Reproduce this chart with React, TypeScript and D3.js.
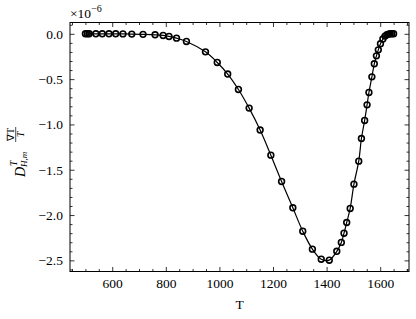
import { useEffect, useRef } from "react";
import * as d3 from "d3";

// Temperature (K) of each sample
const temperature = [
  500, 507, 514, 539, 563, 588, 613, 640, 673, 715, 760, 790, 812, 840, 877,
  948, 992, 1031, 1071, 1111, 1152, 1192, 1232, 1274, 1311, 1347, 1380, 1410,
  1438, 1455, 1465, 1475, 1488, 1502, 1520, 1530, 1542, 1551, 1558, 1569, 1578,
  1586, 1593, 1601, 1610, 1618, 1625, 1631, 1637, 1643, 1650,
];

// D^T_{H,m} * gradT / T, in units of 1e-6
const thermoDiff = [
  0, 0, 0, 0, 0, 0, 0, -0.001, -0.003, -0.006, -0.011, -0.018, -0.029, -0.048,
  -0.084, -0.199, -0.316, -0.444, -0.614, -0.82, -1.062, -1.339, -1.629, -1.92,
  -2.178, -2.376, -2.487, -2.498, -2.4, -2.302, -2.2, -2.082, -1.927, -1.659,
  -1.405, -1.155, -0.956, -0.784, -0.647, -0.475, -0.331, -0.243, -0.177, -0.11,
  -0.058, -0.025, -0.011, -0.003, 0, 0, 0,
];

const xTicks = [600, 800, 1000, 1200, 1400, 1600];
const yTicks = [0, -0.5, -1.0, -1.5, -2.0, -2.5];

const W = 416;
const H = 319;
const margin = { top: 22.5, right: 7, bottom: 47.5, left: 70 };
const serif = "Liberation Serif, Times New Roman, Times, serif";

const App = () => {
  const ref = useRef<SVGSVGElement | null>(null);

  useEffect(() => {
    if (!ref.current) return;
    const root = d3.select(ref.current);
    root.selectAll("*").remove();

    const iw = W - margin.left - margin.right;
    const ih = H - margin.top - margin.bottom;
    const svg = root
      .append("g")
      .attr("transform", `translate(${margin.left},${margin.top})`);

    // 5% padding around the data, like matplotlib
    const [tMin, tMax] = d3.extent(temperature) as [number, number];
    const [vMin, vMax] = d3.extent(thermoDiff) as [number, number];
    const px = (tMax - tMin) * 0.05;
    const py = (vMax - vMin) * 0.05;

    const x = d3.scaleLinear().domain([tMin - px, tMax + px]).range([0, iw]);
    const y = d3.scaleLinear().domain([vMin - py, vMax + py]).range([ih, 0]);

    const xMinor = d3.range(450, 1701, 50).filter((v) => !xTicks.includes(v));
    const yMinor = d3
      .range(-26, 2)
      .map((v) => v / 10)
      .filter((v) => Math.abs(v * 2 - Math.round(v * 2)) > 1e-6);

    const styleAxis = (g) => {
      g.attr("font-family", serif).attr("font-size", 13.5);
      g.select(".domain").remove();
      g.selectAll("line").attr("stroke", "#000").attr("stroke-width", 0.8);
      g.selectAll("text").attr("fill", "#000");
    };

    const fmtY = (d) => d3.format(".1f")(d).replace("-", "\u2212");

    // bottom
    svg.append("g").attr("transform", `translate(0,${ih})`)
      .call(d3.axisBottom(x).tickValues(xTicks).tickSize(-4.5).tickPadding(7).tickFormat(d3.format("d")))
      .call(styleAxis);
    svg.append("g").attr("transform", `translate(0,${ih})`)
      .call(d3.axisBottom(x).tickValues(xMinor).tickSize(-2.5).tickFormat(() => ""))
      .call(styleAxis);
    // top
    svg.append("g")
      .call(d3.axisTop(x).tickValues(xTicks).tickSize(-4.5).tickFormat(() => ""))
      .call(styleAxis);
    svg.append("g")
      .call(d3.axisTop(x).tickValues(xMinor).tickSize(-2.5).tickFormat(() => ""))
      .call(styleAxis);
    // left
    svg.append("g")
      .call(d3.axisLeft(y).tickValues(yTicks).tickSize(-4.5).tickPadding(7).tickFormat(fmtY))
      .call(styleAxis);
    svg.append("g")
      .call(d3.axisLeft(y).tickValues(yMinor).tickSize(-2.5).tickFormat(() => ""))
      .call(styleAxis);
    // right
    svg.append("g").attr("transform", `translate(${iw},0)`)
      .call(d3.axisRight(y).tickValues(yTicks).tickSize(-4.5).tickFormat(() => ""))
      .call(styleAxis);
    svg.append("g").attr("transform", `translate(${iw},0)`)
      .call(d3.axisRight(y).tickValues(yMinor).tickSize(-2.5).tickFormat(() => ""))
      .call(styleAxis);

    // frame
    svg.append("rect")
      .attr("width", iw)
      .attr("height", ih)
      .attr("fill", "none")
      .attr("stroke", "#000")
      .attr("stroke-width", 1);

    const pts = temperature.map((t, i) => [t, thermoDiff[i]]);

    // curve
    const line = d3
      .line()
      .x((d) => x(d[0]))
      .y((d) => y(d[1]))
      .curve(d3.curveCatmullRom.alpha(0.5));
    svg.append("path")
      .datum(pts)
      .attr("d", line)
      .attr("fill", "none")
      .attr("stroke", "#000")
      .attr("stroke-width", 1.2);

    // markers
    svg.append("g")
      .selectAll("circle")
      .data(pts)
      .enter()
      .append("circle")
      .attr("cx", (d) => x(d[0]))
      .attr("cy", (d) => y(d[1]))
      .attr("r", 2.9)
      .attr("fill", "none")
      .attr("stroke", "#000")
      .attr("stroke-width", 1.6);

    const txt = root.append("g").attr("font-family", serif).attr("fill", "#000");

    // offset text
    const off = txt.append("text")
      .attr("x", margin.left)
      .attr("y", 18)
      .attr("font-size", 13.5);
    off.append("tspan").text("\u00d710");
    off.append("tspan").attr("dy", -6).attr("font-size", 10).text("\u22126");

    // x label
    txt.append("text")
      .attr("x", margin.left + iw / 2)
      .attr("y", 309)
      .attr("text-anchor", "middle")
      .attr("font-size", 13.5)
      .text("T");

    // y label: D^T_{H,m} (grad T / T)
    const yl = txt.append("g").attr("transform", "translate(24,152) rotate(-90)");
    yl.append("text").attr("x", -25).attr("y", 1)
      .attr("font-size", 14).attr("font-style", "italic").text("D");
    yl.append("text").attr("x", -14).attr("y", -7.3)
      .attr("font-size", 9.5).attr("font-style", "italic").text("T");
    yl.append("text").attr("x", -15).attr("y", 2.5)
      .attr("font-size", 9).attr("font-style", "italic").text("H,m");
    yl.append("line")
      .attr("x1", 10).attr("x2", 25).attr("y1", -8.3).attr("y2", -8.3)
      .attr("stroke", "#000").attr("stroke-width", 0.7);
    yl.append("text").attr("x", 17.5).attr("y", -10).attr("text-anchor", "middle")
      .attr("font-size", 10).text("\u2207T");
    yl.append("text").attr("x", 17.5).attr("y", 0).attr("text-anchor", "middle")
      .attr("font-size", 10).attr("font-style", "italic").text("T");
  }, []);

  return (
    <svg
      ref={ref}
      width={W}
      height={H}
      style={{ position: "absolute", left: 0, top: 0, background: "#fff" }}
    />
  );
};

export default App;
